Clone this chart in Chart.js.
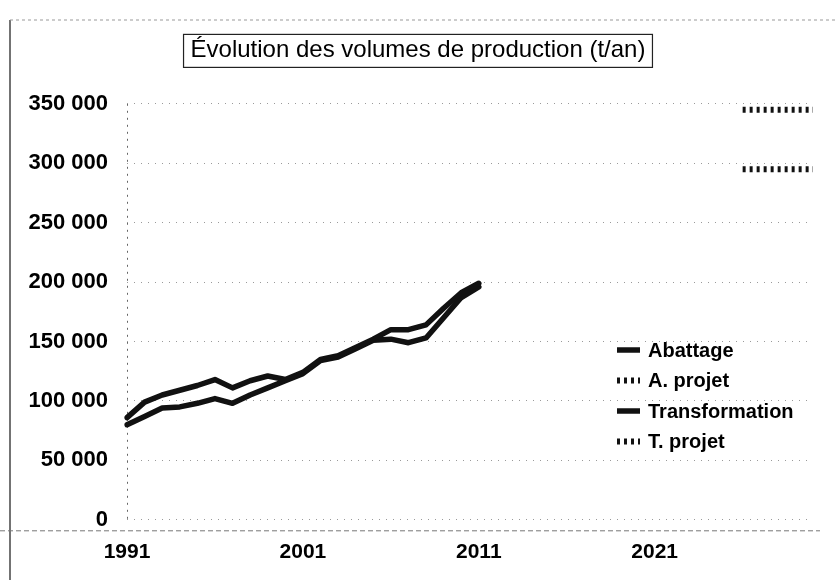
<!DOCTYPE html>
<html>
<head>
<meta charset="utf-8">
<script src="https://cdn.jsdelivr.net/npm/chart.js@4.4.0/dist/chart.umd.min.js"></script>
<style>
  html, body { margin: 0; padding: 0; background: #fff; }
  #wrap { width: 836px; height: 580px; position: relative; }
</style>
</head>
<body>
<div id="wrap"><canvas id="chart" width="836" height="580"></canvas></div>
<script>
// axe des années (catégories)
const years = ['1991', '1992', '1993', '1994', '1995', '1996', '1997', '1998', '1999', '2000',
    '2001', '2002', '2003', '2004', '2005', '2006', '2007', '2008', '2009', '2010',
    '2011', '2012', '2013', '2014', '2015', '2016', '2017', '2018', '2019', '2020',
    '2021', '2022', '2023', '2024', '2025', '2026', '2027', '2028', '2029', '2030'];
const xTickLabels = ['1991', '2001', '2011', '2021'];
const yTicks = [0, 50000, 100000, 150000, 200000, 250000, 300000, 350000];

// historique 1991-2011
const histYears = ['1991', '1992', '1993', '1994', '1995', '1996', '1997', '1998', '1999', '2000',
    '2001', '2002', '2003', '2004', '2005', '2006', '2007', '2008', '2009', '2010', '2011'];
const abattage = [86000, 99000, 105000, 109000, 113000, 118000, 111000, 117000, 121000, 118000,
    124000, 135000, 138000, 145000, 152000, 160000, 160000, 164000, 178000, 191000, 199000];
const transformation = [80000, 87000, 94000, 95000, 98000, 102000, 98000, 105000, 111000, 117000,
    123000, 134000, 137000, 144000, 151000, 152000, 149000, 153000, 170000, 187000, 196000];

// projets
const projYears = ['2026', '2027', '2028', '2029', '2030'];
const aProjet = [345000, 345000, 345000, 345000, 345000];
const tProjet = [295000, 295000, 295000, 295000, 295000];

const FONT = "'Liberation Sans', Arial, sans-serif";

function toPoints(xs, ys) {
    return xs.map((x, i) => ({ x: x, y: ys[i] }));
}

function formatMilliers(v) {
    return String(v).replace(/\B(?=(\d{3})+(?!\d))/g, ' ');
}

// cadre du scan + ligne de base pointillée
const framePlugin = {
    id: 'frame',
    beforeDraw(chart) {
        const ctx = chart.ctx;
        ctx.save();
        ctx.strokeStyle = '#444';
        ctx.lineWidth = 1.5;
        ctx.beginPath();
        ctx.moveTo(10, 20);
        ctx.lineTo(10, 580);
        ctx.stroke();
        ctx.strokeStyle = '#999';
        ctx.lineWidth = 1;
        ctx.setLineDash([3, 3]);
        ctx.beginPath();
        ctx.moveTo(10, 20);
        ctx.lineTo(836, 20);
        ctx.stroke();
        ctx.strokeStyle = '#777';
        ctx.setLineDash([5, 3]);
        ctx.beginPath();
        ctx.moveTo(0, chart.chartArea.bottom + 11);
        ctx.lineTo(820, chart.chartArea.bottom + 11);
        ctx.stroke();
        ctx.restore();
    }
};

// cadre autour du titre
const titleBoxPlugin = {
    id: 'titleBox',
    afterDraw(chart) {
        const tb = chart.titleBlock;
        if (!tb) return;
        const opts = chart.options.plugins.title;
        const ctx = chart.ctx;
        ctx.save();
        ctx.font = opts.font.size + 'px ' + FONT;
        const w = ctx.measureText(opts.text).width;
        const cx = (tb.left + tb.right) / 2;
        const cy = tb.top + opts.padding.top + opts.font.size * 0.6;
        ctx.strokeStyle = '#222';
        ctx.lineWidth = 1.2;
        ctx.strokeRect(cx - w / 2 - 7, cy - 16, w + 14, 33);
        ctx.restore();
    }
};

// légende dans la zone du graphique
const legendPlugin = {
    id: 'insideLegend',
    afterDatasetsDraw(chart, args, opts) {
        const ctx = chart.ctx;
        ctx.save();
        ctx.font = 'bold ' + opts.fontSize + 'px ' + FONT;
        ctx.textBaseline = 'middle';
        ctx.fillStyle = '#000';
        chart.data.datasets.forEach((ds, i) => {
            const y = opts.y + i * opts.step;
            ctx.strokeStyle = ds.borderColor;
            ctx.lineWidth = ds.borderWidth;
            ctx.setLineDash(ds.borderDash || []);
            ctx.lineCap = 'butt';
            ctx.beginPath();
            ctx.moveTo(opts.x, y);
            ctx.lineTo(opts.x + opts.lineLen, y);
            ctx.stroke();
            ctx.fillText(ds.label, opts.x + opts.lineLen + 8, y + 1);
        });
        ctx.restore();
    }
};

new Chart(document.getElementById('chart').getContext('2d'), {
    type: 'line',
    data: {
        labels: years,
        datasets: [{
            label: 'Abattage',
            data: toPoints(histYears, abattage),
            borderColor: '#111',
            borderWidth: 5.5,
            borderCapStyle: 'round',
            borderJoinStyle: 'round'
        }, {
            label: 'A. projet',
            data: toPoints(projYears, aProjet),
            borderColor: '#111',
            borderWidth: 6,
            borderDash: [3, 4]
        }, {
            label: 'Transformation',
            data: toPoints(histYears, transformation),
            borderColor: '#111',
            borderWidth: 5.5,
            borderCapStyle: 'round',
            borderJoinStyle: 'round'
        }, {
            label: 'T. projet',
            data: toPoints(projYears, tProjet),
            borderColor: '#111',
            borderWidth: 6,
            borderDash: [3, 4]
        }]
    },
    options: {
        responsive: false,
        animation: false,
        devicePixelRatio: 1,
        elements: {
            point: { radius: 0 },
            line: { tension: 0 }
        },
        layout: {
            padding: { left: 23, right: 23, top: 0, bottom: -5 }
        },
        scales: {
            x: {
                type: 'category',
                offset: false,
                grid: {
                    drawTicks: false,
                    color: (c) => c.index === 0 ? '#666' : 'rgba(0,0,0,0)'
                },
                border: { display: false, dash: [2, 5] },
                ticks: {
                    autoSkip: false,
                    maxRotation: 0,
                    padding: 20,
                    color: '#000',
                    font: { family: FONT, size: 21, weight: 'bold' },
                    callback: function (value, index) {
                        return xTickLabels.includes(years[index]) ? years[index] : '';
                    }
                }
            },
            y: {
                min: 0,
                max: 350000,
                afterBuildTicks: (scale) => {
                    scale.ticks = yTicks.map(v => ({ value: v }));
                },
                afterFit: (scale) => {
                    scale.width = 104;
                },
                grid: { drawTicks: false, color: '#9a9a9a', lineWidth: 1 },
                border: { display: false, dash: [1, 6] },
                ticks: {
                    padding: 19,
                    color: '#000',
                    font: { family: FONT, size: 22, weight: 'bold' },
                    callback: (value) => formatMilliers(value)
                }
            }
        },
        plugins: {
            legend: { display: false },
            tooltip: { enabled: false },
            title: {
                display: true,
                text: 'Évolution des volumes de production (t/an)',
                color: '#000',
                font: { family: FONT, size: 24, weight: 'normal' },
                padding: { top: 36, bottom: 39 }
            },
            insideLegend: { x: 617, y: 350, step: 30.5, lineLen: 23, fontSize: 20 }
        }
    },
    plugins: [framePlugin, titleBoxPlugin, legendPlugin]
});
</script>
</body>
</html>
